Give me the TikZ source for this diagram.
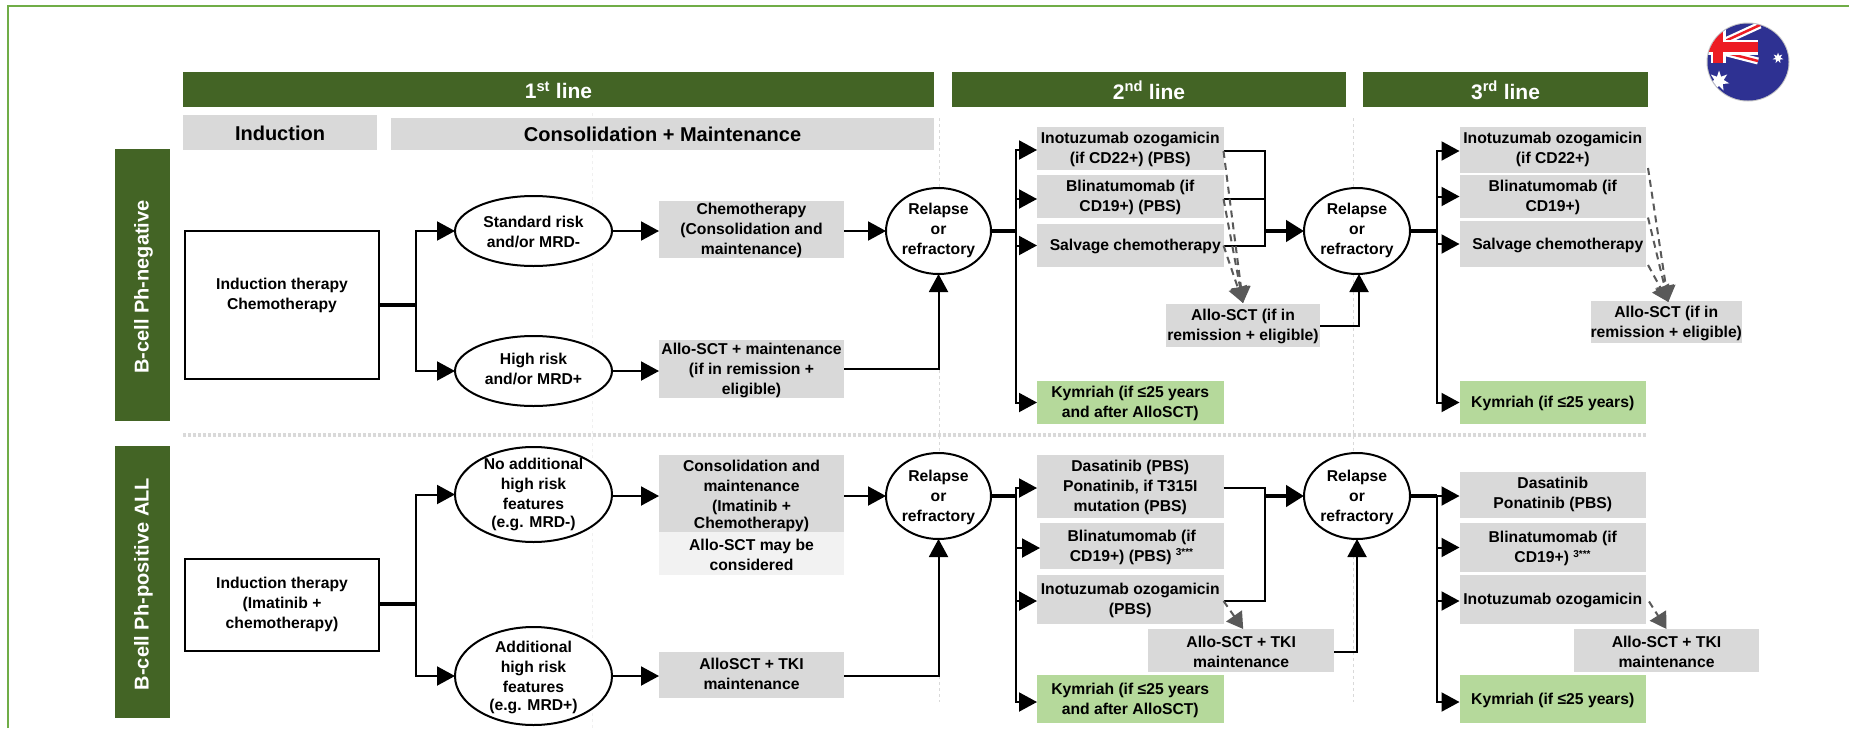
\documentclass[tikz,border=0pt]{standalone}
\usepackage{fontspec}
\setmainfont{Liberation Sans}
\usetikzlibrary{arrows.meta,shapes.geometric,calc}
\definecolor{frameg}{HTML}{70AD47}
\definecolor{barg}{HTML}{436425}
\definecolor{greyb}{HTML}{D9D9D9}
\definecolor{lightb}{HTML}{F2F2F2}
\definecolor{kym}{HTML}{B5D99B}
\definecolor{dashg}{HTML}{595959}
\definecolor{flagblue}{HTML}{2E3192}
\definecolor{flagred}{HTML}{ED1C24}
\tikzset{
  every label/.style={yshift=-1pt},
  boxbase/.style={rectangle,inner sep=0pt,outer sep=0pt},
  greybox/.style={boxbase,fill=greyb},
  lightbox/.style={boxbase,fill=lightb},
  kymbox/.style={boxbase,fill=kym},
  whitebox/.style={boxbase,draw=black,line width=2pt,fill=white},
  barbox/.style={boxbase,fill=barg},
  circ/.style={ellipse,draw=black,line width=2pt,fill=white,inner sep=0pt,outer sep=0pt},
  boxtext/.style={font=\fontsize{15.7}{20}\selectfont\bfseries,align=center,text=black,inner sep=0pt},
  bartext/.style={font=\fontsize{21}{24}\selectfont\bfseries,align=center,text=white,inner sep=0pt},
  headtext/.style={font=\fontsize{20}{24}\selectfont\bfseries,align=center,text=black,inner sep=0pt},
  sidetext/.style={font=\fontsize{20}{24}\selectfont\bfseries,text=white,rotate=90,inner sep=0pt},
  conn/.style={line width=2pt,draw=black},
  arrow/.style={conn,-{Triangle[length=18pt,width=19pt]}},
  thickconn/.style={line width=3.5pt,draw=black},
  thickarrow/.style={line width=4.5pt,draw=black,-{Triangle[length=18pt,width=21pt]}},
  dasharrow/.style={line width=2pt,draw=dashg,dash pattern=on 7pt off 5pt,-{Triangle[length=16pt,width=19pt,fill=dashg]}},
  divide/.style={draw=greyb,line width=0.8pt,dash pattern=on 3pt off 3pt},
  faintdivide/.style={draw=greyb!40,line width=0.8pt,dash pattern=on 3pt off 3pt},
  sepline/.style={draw=greyb,line width=4pt,dash pattern=on 3pt off 2pt},
}
\begin{document}
\begin{tikzpicture}[x=1pt,y=-1pt]
\useasboundingbox (0,0) rectangle (1849,728);
\fill[white] (0,0) rectangle (1849,728);
% frame
\draw[frameg,line width=2pt] (8,728) -- (8,5.7) -- (1849,5.7);
% flag
\begin{scope}
\fill[gray!45] (1748,62) ellipse [x radius=41.5,y radius=39.5];
\clip (1748,62) ellipse [x radius=40.5,y radius=38.5];
\fill[flagblue] (1700,20) rectangle (1795,105);
\draw[white,line width=7pt] (1723,42) -- (1760,25);
\draw[white,line width=7pt] (1723,52) -- (1758,61);
\draw[flagred,line width=2.5pt] (1723,42) -- (1760,25);
\draw[flagred,line width=2.5pt] (1723,52) -- (1758,61);
\fill[white] (1700,39.5) rectangle (1758,54.5);
\fill[white] (1710.5,20) rectangle (1725.5,63);
\fill[flagred] (1700,42) rectangle (1758,52);
\fill[flagred] (1713,20) rectangle (1723,63);
\node[star,star points=7,star point ratio=2.2,fill=white,inner sep=0pt,minimum size=21pt] (bigstar) at (1719,81) {};
\node[star,star points=7,star point ratio=2.2,fill=white,inner sep=0pt,minimum size=11pt] (smallstar) at (1778,58) {};
\end{scope}
% vertical guides and divider
\draw[faintdivide] (592,113) -- (592,728);
\draw[divide] (939,118) -- (939,702);
\draw[divide] (1353,118) -- (1353,702);
\draw[sepline] (183,435) -- (1646,435);
% header bars
\node[barbox,minimum width=751pt,minimum height=35pt,label={[bartext,name=h1t]center:{1\textsuperscript{st} line}}] (h1) at (558.5,89.5) {};
\node[barbox,minimum width=394pt,minimum height=35pt,label={[bartext,name=h2t]center:{2\textsuperscript{nd} line}}] (h2) at (1149,89.5) {};
\node[barbox,minimum width=285pt,minimum height=35pt,label={[bartext,name=h3t]center:{3\textsuperscript{rd} line}}] (h3) at (1505.5,89.5) {};
\node[greybox,minimum width=194pt,minimum height=35pt,label={[headtext,name=indt]center:{Induction}}] (ind) at (280,132.5) {};
\node[greybox,minimum width=543pt,minimum height=32pt,label={[headtext,name=cont,yshift=1pt]center:{Consolidation + Maintenance}}] (con) at (662.5,134) {};
\node[barbox,minimum width=55pt,minimum height=272pt,label={[sidetext,name=s1t,xshift=-1pt,yshift=-1pt]center:{B-cell Ph-negative}}] (s1) at (142.5,285) {};
\node[barbox,minimum width=55pt,minimum height=272pt,label={[sidetext,name=s2t,xshift=-1pt,yshift=-1pt]center:{B-cell Ph-positive ALL}}] (s2) at (142.5,582) {};
% --- upper row
\node[whitebox,minimum width=194pt,minimum height=148pt,label={[boxtext,name=a0t,yshift=11pt]center:{Induction therapy\\Chemotherapy}}] (a0) at (282,305) {};
\node[circ,minimum width=157pt,minimum height=70pt,label={[boxtext,name=a1t]center:{Standard risk\\and/or MRD-}}] (a1) at (533.5,231) {};
\node[circ,minimum width=157pt,minimum height=70pt,label={[boxtext,name=a2t,yshift=3pt]center:{High risk\\and/or MRD+}}] (a2) at (533.5,371) {};
\node[greybox,minimum width=185pt,minimum height=57pt,label={[boxtext,name=a3t]center:{Chemotherapy\\(Consolidation and\\maintenance)}}] (a3) at (751.5,229.5) {};
\node[greybox,minimum width=185pt,minimum height=58pt,label={[boxtext,name=a4t]center:{Allo-SCT + maintenance\\(if in remission +\\eligible)}}] (a4) at (751.5,369) {};
\node[circ,minimum width=105pt,minimum height=86pt,label={[boxtext,name=r1t,yshift=2pt]center:{Relapse\\or\\refractory}}] (r1) at (938.5,231) {};
\node[greybox,minimum width=186.5pt,minimum height=43pt,label={[boxtext,name=b1t]center:{Inotuzumab ozogamicin\\(if CD22+) (PBS)}}] (b1) at (1130.25,148.5) {};
\node[greybox,minimum width=186.5pt,minimum height=43pt,label={[boxtext,name=b2t]center:{Blinatumomab (if\\CD19+) (PBS)}}] (b2) at (1130.25,196.5) {};
\node[greybox,minimum width=186.5pt,minimum height=43pt,label={[boxtext,name=b3t,xshift=5pt]center:{Salvage chemotherapy}}] (b3) at (1130.25,245.5) {};
\node[greybox,minimum width=154pt,minimum height=43pt,label={[boxtext,name=b4t]center:{Allo-SCT (if in\\remission + eligible)}}] (b4) at (1243,325.5) {};
\node[kymbox,minimum width=186.5pt,minimum height=43pt,label={[boxtext,name=b5t]center:{Kymriah (if ≤25 years\\and after AlloSCT)}}] (b5) at (1130.25,402.5) {};
\node[circ,minimum width=106pt,minimum height=86pt,label={[boxtext,name=r2t,yshift=2pt]center:{Relapse\\or\\refractory}}] (r2) at (1357,231) {};
\node[greybox,minimum width=186.5pt,minimum height=46pt,label={[boxtext,name=c1t,yshift=2pt]center:{Inotuzumab ozogamicin\\(if CD22+)}}] (c1) at (1552.75,150) {};
\node[greybox,minimum width=186.5pt,minimum height=43pt,label={[boxtext,name=c2t]center:{Blinatumomab (if\\CD19+)}}] (c2) at (1552.75,196.5) {};
\node[greybox,minimum width=186.5pt,minimum height=46pt,label={[boxtext,name=c3t,xshift=5pt]center:{Salvage chemotherapy}}] (c3) at (1552.75,244) {};
\node[greybox,minimum width=151.5pt,minimum height=42pt,label={[boxtext,name=c4t]center:{Allo-SCT (if in\\remission + eligible)}}] (c4) at (1666.25,322) {};
\node[kymbox,minimum width=186.5pt,minimum height=43pt,label={[boxtext,name=c5t]center:{Kymriah (if ≤25 years)}}] (c5) at (1552.75,402.5) {};
% --- lower row
\node[whitebox,minimum width=194pt,minimum height=92pt,label={[boxtext,name=d0t,yshift=2pt]center:{Induction therapy\\(Imatinib +\\chemotherapy)}}] (d0) at (282,605) {};
\node[circ,minimum width=157pt,minimum height=95pt,label={[boxtext,name=d1t,yshift=1pt]center:{No additional\\high risk\\features\\[-2pt](e.g. MRD-)}}] (d1) at (533.5,494.5) {};
\node[circ,minimum width=157pt,minimum height=98pt,label={[boxtext,name=d2t]center:{Additional\\high risk\\features\\[-2pt](e.g. MRD+)}}] (d2) at (533.5,676) {};
\node[greybox,minimum width=185pt,minimum height=77pt,label={[boxtext,name=d3t,yshift=-1pt]center:{Consolidation and\\maintenance\\(Imatinib +\\[-3pt]Chemotherapy)}}] (d3) at (751.5,493.5) {};
\node[lightbox,minimum width=185pt,minimum height=43pt,label={[boxtext,name=d3bt]center:{Allo-SCT may be\\considered}}] (d3b) at (751.5,553.5) {};
\node[greybox,minimum width=185pt,minimum height=46pt,label={[boxtext,name=d4t,yshift=2pt]center:{AlloSCT + TKI\\maintenance}}] (d4) at (751.5,675) {};
\node[circ,minimum width=105pt,minimum height=86pt,label={[boxtext,name=r3t]center:{Relapse\\or\\refractory}}] (r3) at (938.5,496) {};
\node[greybox,minimum width=186.5pt,minimum height=63pt,label={[boxtext,name=e1t]center:{Dasatinib (PBS)\\Ponatinib, if T315I\\mutation (PBS)}}] (e1) at (1130.25,486.5) {};
\node[greybox,minimum width=183.5pt,minimum height=46pt,label={[boxtext,name=e2t]center:{Blinatumomab (if\\CD19+) (PBS) \textsuperscript{\fontsize{10}{10}\selectfont 3***}}}] (e2) at (1131.75,546) {};
\node[greybox,minimum width=186.5pt,minimum height=49pt,label={[boxtext,name=e3t]center:{Inotuzumab ozogamicin\\(PBS)}}] (e3) at (1130.25,599.5) {};
\node[greybox,minimum width=186.5pt,minimum height=43pt,label={[boxtext,name=e4t]center:{Allo-SCT + TKI\\maintenance}}] (e4) at (1241.2,650.5) {};
\node[kymbox,minimum width=186.5pt,minimum height=48pt,label={[boxtext,name=e5t]center:{Kymriah (if ≤25 years\\and after AlloSCT)}}] (e5) at (1130.25,699) {};
\node[circ,minimum width=106pt,minimum height=86pt,label={[boxtext,name=r4t]center:{Relapse\\or\\refractory}}] (r4) at (1357,496) {};
\node[greybox,minimum width=186.5pt,minimum height=46pt,label={[boxtext,name=f1t,yshift=2pt]center:{Dasatinib\\Ponatinib (PBS)}}] (f1) at (1552.75,495) {};
\node[greybox,minimum width=186.5pt,minimum height=49pt,label={[boxtext,name=f2t]center:{Blinatumomab (if\\CD19+) \textsuperscript{\fontsize{10}{10}\selectfont 3***}}}] (f2) at (1552.75,547.5) {};
\node[greybox,minimum width=186.5pt,minimum height=49pt,label={[boxtext,name=f3t]center:{Inotuzumab ozogamicin}}] (f3) at (1552.75,599.5) {};
\node[greybox,minimum width=185pt,minimum height=43pt,label={[boxtext,name=f4t]center:{Allo-SCT + TKI\\maintenance}}] (f4) at (1666.5,650.5) {};
\node[kymbox,minimum width=186.5pt,minimum height=48pt,label={[boxtext,name=f5t]center:{Kymriah (if ≤25 years)}}] (f5) at (1552.75,699) {};
% junction coordinates
\coordinate (ja) at (416,305);
\coordinate (jd) at (416,604);
\coordinate (jb) at (1016,231);
\coordinate (jc) at (1436.5,231);
\coordinate (je) at (1016,496);
\coordinate (jf) at (1436.5,496);
\coordinate (mb) at (1265,231);
\coordinate (me) at (1265,496);
% upper row connectors
\draw[thickconn] (a0.east |- ja) -- (ja);
\draw[arrow] (ja) |- (a1.west);
\draw[arrow] (ja) |- (a2.west);
\draw[arrow] (a1.east) -- (a3.west |- a1.east);
\draw[arrow] (a2.east) -- (a4.west |- a2.east);
\draw[arrow] (a3.east |- r1.west) -- (r1.west);
\draw[arrow] (a4.east) -| (r1.south);
\draw[thickconn] (r1.east) -- (jb);
\draw[arrow] (jb) |- ([yshift=-1.5pt]b1.west);
\draw[arrow] (jb) |- ([yshift=-2.5pt]b2.west);
\draw[arrow] (jb) |- (b3.west);
\draw[arrow] (jb) |- (b5.west);
\draw[conn] ([yshift=-2.5pt]b1.east) -| (mb);
\draw[conn] ([yshift=-2.5pt]b2.east) -- ([yshift=-2.5pt]b2.east -| mb);
\draw[conn] (b3.east) -| (mb);
\draw[thickarrow] (mb) -- (r2.west);
\draw[arrow] (b4.east) -| ([xshift=2pt]r2.south);
\draw[dasharrow] ([yshift=-2.5pt]b1.east) -- ($(b4.north)+(0,-1)$);
\draw[dasharrow] ([yshift=-2.5pt]b2.east) -- ($(b4.north)+(0,-1)$);
\draw[dasharrow] (b3.east) -- ($(b4.north)+(0,-1)$);
\draw[thickconn] (r2.east) -- (jc);
\draw[arrow] (jc) |- ([yshift=-1pt]c1.west);
\draw[arrow] (jc) |- (c2.west);
\draw[arrow] (jc) |- (c3.west);
\draw[arrow] (jc) |- (c5.west);
\draw[dasharrow] ($(c1.east)+(2,18)$) -- ($(c4.north)+(2,1)$);
\draw[dasharrow] ($(c2.east)+(2,21)$) -- ($(c4.north)+(2,1)$);
\draw[dasharrow] ($(c3.east)+(2,21)$) -- ($(c4.north)+(2,1)$);
% lower row connectors
\draw[thickconn] (d0.east |- jd) -- (jd);
\draw[arrow] (jd) |- (d1.west);
\draw[arrow] (jd) |- (d2.west);
\draw[arrow] (d1.east |- d3.west) ++(0,2.5) -- ($(d3.west)+(0,2.5)$);
\draw[arrow] (d2.east) -- (d4.west |- d2.east);
\draw[arrow] (d3.east |- r3.west) -- (r3.west);
\draw[arrow] (d4.east |- d2.east) -| (r3.south);
\draw[thickconn] (r3.east) -- (je);
\draw[arrow] (je) |- ([yshift=-1.5pt]e1.west);
\draw[arrow] (je) |- ([yshift=-2pt]e2.west);
\draw[arrow] (je) |- ([yshift=-1.5pt]e3.west);
\draw[arrow] (je) |- ([yshift=-3pt]e5.west);
\draw[conn] ([yshift=-1.5pt]e1.east) -| (me);
\draw[conn] ([yshift=-1.5pt]e3.east) -| (me);
\draw[thickarrow] (me) -- (r4.west);
\draw[arrow] ([yshift=-1.5pt]e4.east) -| (r4.south);
\draw[dasharrow] ([yshift=-1.5pt]e3.east) -- ($(e4.north)+(2,0)$);
\draw[thickconn] (r4.east) -- (jf);
\draw[arrow] (jf) -- (f1.west |- jf);
\draw[conn] (jf) -- (jf |- f5.west);
\draw[arrow] (jf) |- (f2.west);
\draw[arrow] (jf) |- ([yshift=-1.5pt]f3.west);
\draw[arrow] (jf) |- ([yshift=-3pt]f5.west);
\draw[dasharrow] ([yshift=-2pt,xshift=3pt]f3.east) -- (f4.north);
\end{tikzpicture}
\end{document}
